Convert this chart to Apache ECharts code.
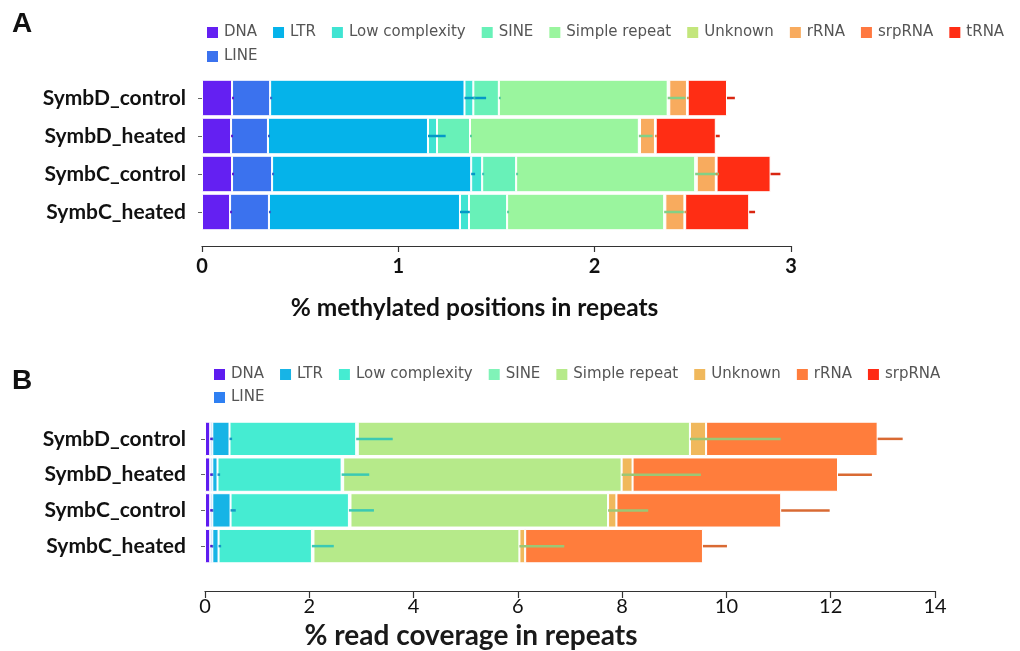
<!DOCTYPE html>
<html>
<head>
<meta charset="utf-8">
<script src="https://cdn.jsdelivr.net/npm/echarts@6/dist/echarts.min.js"></script>
<style>
html,body{margin:0;padding:0;background:#fff;}
#chart{width:1020px;height:651px;}
</style>
</head>
<body>
<div id="chart"></div>
<script>
// ---------- DATA ----------
const categories = ['SymbD_control', 'SymbD_heated', 'SymbC_control', 'SymbC_heated'];

// Panel A: % methylated positions in repeats
const namesA = ['DNA', 'LINE', 'LTR', 'Low complexity', 'SINE', 'Simple repeat', 'Unknown', 'rRNA', 'srpRNA', 'tRNA'];
const legendA1 = ['DNA', 'LTR', 'Low complexity', 'SINE', 'Simple repeat', 'Unknown', 'rRNA', 'srpRNA', 'tRNA'];
const legendA2 = ['LINE'];
const colorsA = ['#6420f2', '#3b72ee', '#05b3ea', '#3fe4d2', '#68f1b8', '#9af59e', '#c3e67c', '#f8ab5e', '#ff7840', '#ff2d14'];
const dnaA     = [0.153, 0.148, 0.153, 0.143];
const lineA    = [0.194, 0.188, 0.204, 0.198];
const ltrA     = [0.990, 0.815, 1.014, 0.973];
const lowA     = [0.045, 0.046, 0.056, 0.046];
const sineA    = [0.130, 0.168, 0.173, 0.194];
const simpleA  = [0.860, 0.860, 0.912, 0.800];
const unknownA = [0.008, 0.006, 0.008, 0.006];
const rrnaA    = [0.090, 0.076, 0.097, 0.097];
const srpA     = [0.004, 0.004, 0.004, 0.004];
const trnaA    = [0.200, 0.306, 0.275, 0.326];
const errDnaA     = [0.01, 0.01, 0.01, 0.01];
const errLineA    = [0.01, 0.01, 0.01, 0.01];
const errLtrA     = [0.11, 0.09, 0.02, 0.05];
const errLowA     = [0.01, 0.00, 0.01, 0.00];
const errSineA    = [0.01, 0.01, 0.01, 0.01];
const errSimpleA  = [0.09, 0.07, 0.12, 0.10];
const errUnknownA = [0, 0, 0, 0];
const errRrnaA    = [0.01, 0.01, 0.01, 0.01];
const errSrpA     = [0, 0, 0, 0];
const errTrnaA    = [0.04, 0.02, 0.05, 0.03];
const ticksA = ['0', '1', '2', '3'];

// Panel B: % read coverage in repeats
const namesB = ['DNA', 'LINE', 'LTR', 'Low complexity', 'SINE', 'Simple repeat', 'Unknown', 'rRNA', 'srpRNA'];
const legendB1 = ['DNA', 'LTR', 'Low complexity', 'SINE', 'Simple repeat', 'Unknown', 'rRNA', 'srpRNA'];
const legendB2 = ['LINE'];
const colorsB = ['#5e1cf0', '#2f80f2', '#17b4e6', '#45ecd2', '#80f3b8', '#b6ea8a', '#f0b85c', '#ff7d3c', '#ff2a14'];
const dnaB     = [0.10, 0.10, 0.10, 0.10];
const lineB    = [0.04, 0.04, 0.04, 0.04];
const ltrB     = [0.33, 0.10, 0.35, 0.12];
const lowB     = [2.43, 2.38, 2.27, 1.79];
const sineB    = [0.03, 0.03, 0.03, 0.03];
const simpleB  = [6.37, 5.34, 4.94, 3.95];
const unknownB = [0.31, 0.21, 0.16, 0.11];
const rrnaB    = [3.29, 3.94, 3.16, 3.41];
const srpB     = [0.01, 0.01, 0.01, 0.01];
const errDnaB     = [0.05, 0.05, 0.05, 0.05];
const errLineB    = [0.02, 0.02, 0.02, 0.02];
const errLtrB     = [0.05, 0.05, 0.10, 0.05];
const errLowB     = [0.70, 0.53, 0.48, 0.42];
const errSineB    = [0, 0, 0, 0];
const errSimpleB  = [1.74, 1.52, 0.77, 0.86];
const errUnknownB = [0, 0, 0, 0];
const errRrnaB    = [0.48, 0.65, 0.93, 0.46];
const errSrpB     = [0, 0, 0, 0];
const ticksB = ['0', '2', '4', '6', '8', '10', '12', '14'];

// ---------- BUILD ----------
const valsA = [dnaA, lineA, ltrA, lowA, sineA, simpleA, unknownA, rrnaA, srpA, trnaA];
const errsA = [errDnaA, errLineA, errLtrA, errLowA, errSineA, errSimpleA, errUnknownA, errRrnaA, errSrpA, errTrnaA];
const valsB = [dnaB, lineB, ltrB, lowB, sineB, simpleB, unknownB, rrnaB, srpB];
const errsB = [errDnaB, errLineB, errLtrB, errLowB, errSineB, errSimpleB, errUnknownB, errRrnaB, errSrpB];

function darken(hex, f) {
  const n = parseInt(hex.slice(1), 16);
  const r = Math.round(((n >> 16) & 255) * f), g = Math.round(((n >> 8) & 255) * f), b = Math.round((n & 255) * f);
  return 'rgb(' + r + ',' + g + ',' + b + ')';
}

function barSeries(names, vals, colors, stack, gi) {
  return names.map((nm, i) => ({
    name: nm, type: 'bar', stack: stack,
    xAxisIndex: gi, yAxisIndex: gi,
    barCategoryGap: '4%',
    itemStyle: { color: colors[i], borderColor: '#ffffff', borderWidth: 1 },
    emphasis: { disabled: true },
    data: vals[i]
  }));
}

function errSeries(vals, errs, colors, gi) {
  const data = [];
  for (let c = 0; c < categories.length; c++) {
    let cum = 0;
    for (let s = 0; s < vals.length; s++) {
      cum += vals[s][c];
      if (errs[s][c] > 0) data.push([cum, c, cum + errs[s][c], s]);
    }
  }
  return {
    type: 'custom', xAxisIndex: gi, yAxisIndex: gi, z: 5, silent: true,
    encode: { x: [0, 2], y: 1 },
    renderItem: function (params, api) {
      const p0 = api.coord([api.value(0), api.value(1)]);
      const p1 = api.coord([api.value(2), api.value(1)]);
      return {
        type: 'line',
        shape: { x1: p0[0], y1: p0[1], x2: p1[0], y2: p1[1] },
        style: { stroke: darken(colors[api.value(3)], 0.85), lineWidth: 2.5 }
      };
    },
    data: data
  };
}

function legendData(list, names, colors) {
  return list.map(nm => ({ name: nm, itemStyle: { color: colors[names.indexOf(nm)] } }));
}

const legendText = { fontFamily: 'DejaVu Sans', fontSize: 15, color: '#555' };
const legendBase = { orient: 'horizontal', itemWidth: 13, itemHeight: 13, itemGap: 14, padding: 0, width: 900,
  textStyle: legendText, selectedMode: false, icon: 'rect' };

const yLabelA = { fontFamily: 'Lato', fontWeight: 'bold', fontSize: 21, color: '#111', margin: 16 };
const yLabelB = { fontFamily: 'Lato', fontWeight: 'bold', fontSize: 21, color: '#111', margin: 19 };

const chart = echarts.init(document.getElementById('chart'), null, { renderer: 'canvas' });
chart.setOption({
  animation: false,
  backgroundColor: '#fff',
  title: [
    { text: 'A', left: 7, top: 5, textStyle: { fontFamily: 'Liberation Sans', fontWeight: 'bold', fontSize: 28, color: '#111' } },
    { text: 'B', left: 7, top: 362, textStyle: { fontFamily: 'Liberation Sans', fontWeight: 'bold', fontSize: 28, color: '#111' } }
  ],
  legend: [
    Object.assign({}, legendBase, { left: 205, top: 25, data: legendData(legendA1, namesA, colorsA) }),
    Object.assign({}, legendBase, { left: 205, top: 49, data: legendData(legendA2, namesA, colorsA) }),
    Object.assign({}, legendBase, { left: 212, top: 367, data: legendData(legendB1, namesB, colorsB) }),
    Object.assign({}, legendBase, { left: 212, top: 390, data: legendData(legendB2, namesB, colorsB) })
  ],
  grid: [
    { left: 202, width: 589, top: 79, height: 152 },
    { left: 205, width: 730, top: 421, height: 144 }
  ],
  xAxis: [
    {
      type: 'value', gridIndex: 0, min: 0, max: 3, interval: 1, offset: 15,
      splitLine: { show: false },
      axisLine: { show: true, lineStyle: { color: '#333', width: 1.2 } },
      axisTick: { show: true, length: 6, lineStyle: { color: '#333', width: 1.2 } },
      axisLabel: { fontFamily: 'Lato', fontWeight: 'bold', fontSize: 20, color: '#111', margin: 11,
        formatter: v => ticksA[Math.round(v)] },
      name: '% methylated positions in repeats', nameLocation: 'middle', nameGap: 50,
      nameTextStyle: { fontFamily: 'Lato', fontWeight: 'bold', fontSize: 24.5, color: '#111', padding: [0, 44, 0, 0] }
    },
    {
      type: 'value', gridIndex: 1, min: 0, max: 14, interval: 2, offset: 27,
      splitLine: { show: false },
      axisLine: { show: true, lineStyle: { color: '#333', width: 1.2 } },
      axisTick: { show: true, length: 7, lineStyle: { color: '#333', width: 1.2 } },
      axisLabel: { fontFamily: 'Lato', fontSize: 20, color: '#111', margin: 6,
        formatter: v => ticksB[Math.round(v / 2)] },
      name: '% read coverage in repeats', nameLocation: 'middle', nameGap: 31,
      nameTextStyle: { fontFamily: 'Lato', fontWeight: 'bold', fontSize: 28, color: '#1a1a1a', padding: [0, 198, 0, 0] }
    }
  ],
  yAxis: [
    {
      type: 'category', gridIndex: 0, data: categories, inverse: true,
      axisLine: { show: false },
      axisTick: { show: true, length: 4, alignWithLabel: true, lineStyle: { color: '#666' } },
      axisLabel: yLabelA
    },
    {
      type: 'category', gridIndex: 1, data: categories, inverse: true,
      axisLine: { show: false },
      axisTick: { show: true, length: 4, alignWithLabel: true, lineStyle: { color: '#666' } },
      axisLabel: yLabelB
    }
  ],
  series: [].concat(
    barSeries(namesA, valsA, colorsA, 'A', 0),
    [errSeries(valsA, errsA, colorsA, 0)],
    barSeries(namesB, valsB, colorsB, 'B', 1),
    [errSeries(valsB, errsB, colorsB, 1)]
  )
});
</script>
</body>
</html>
